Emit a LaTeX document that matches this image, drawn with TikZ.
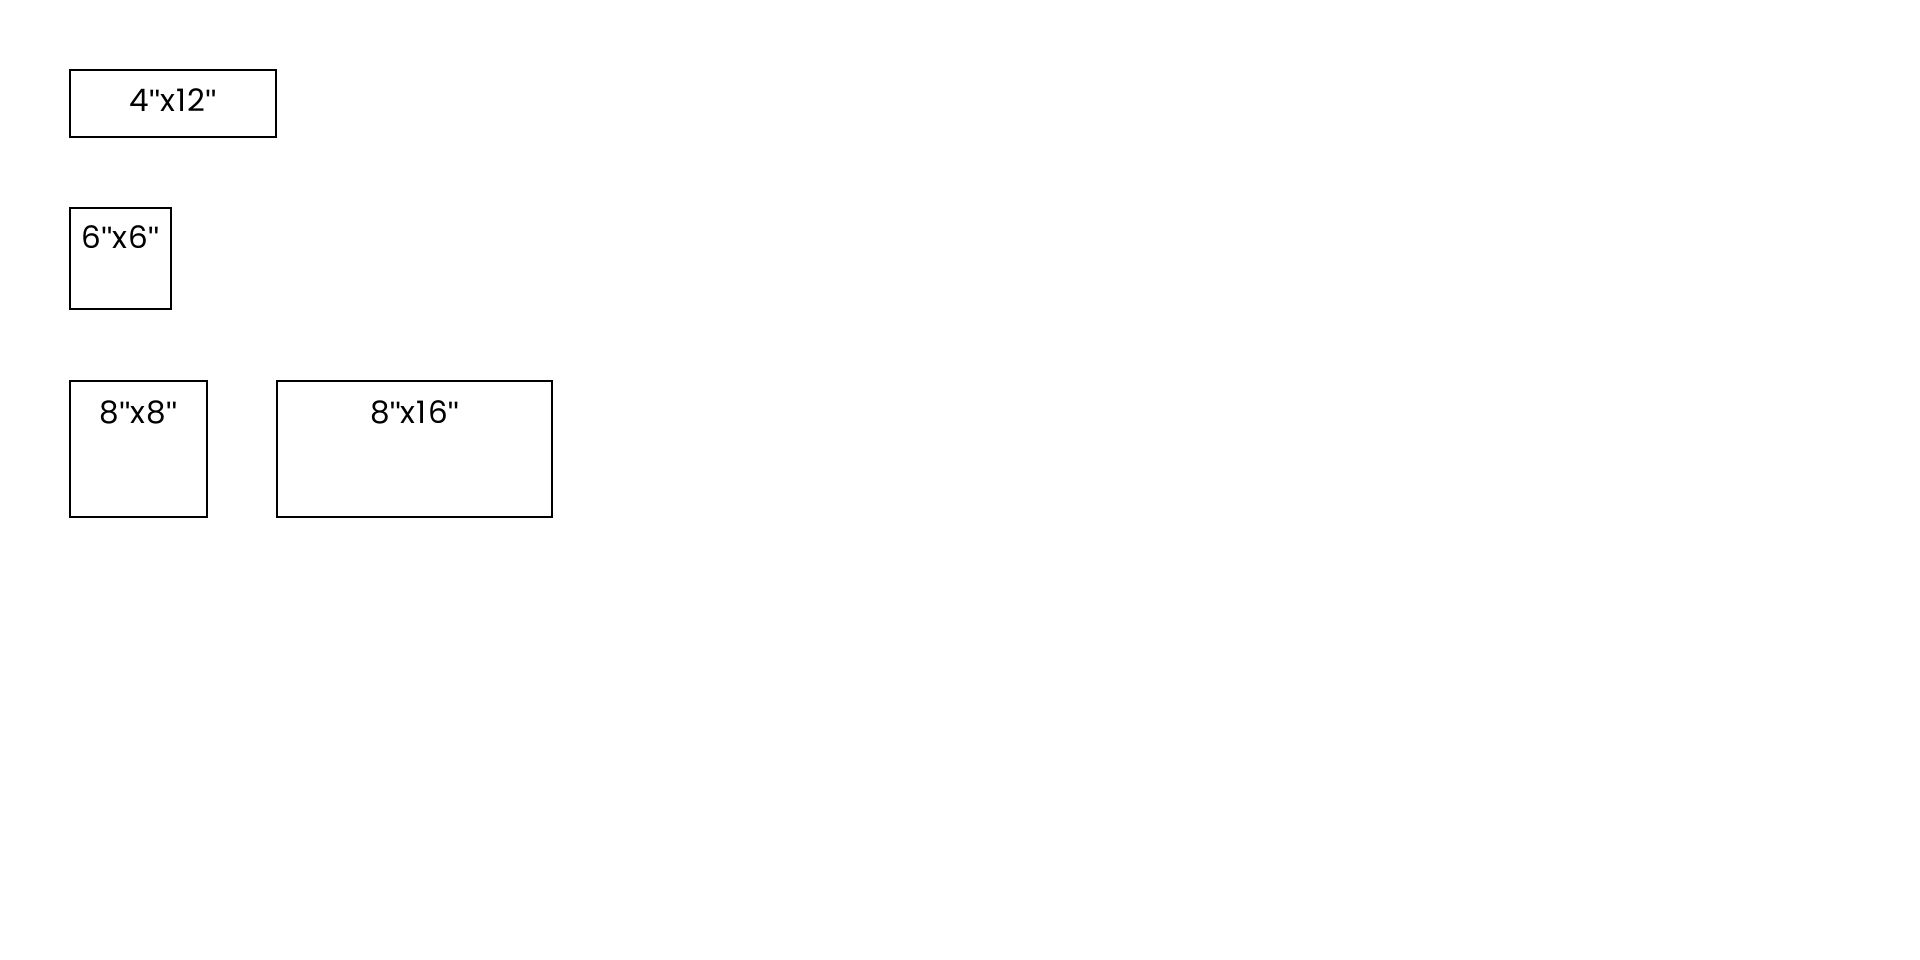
\documentclass[tikz,border=0pt]{standalone}
\usepackage{fontspec}
\setmainfont{Poppins}[LetterSpace=4]
\newfontfamily\quotefam{Liberation Sans}[LetterSpace=4]
\newcommand{\inchmk}{{\quotefam\textquotedbl}}
\begin{document}
\begin{tikzpicture}[x=1pt,y=-1pt,
  tile/.style={draw=black, line width=1.3pt, fill=none},
  lbl/.style={inner sep=0pt, anchor=base, font=\fontsize{31}{37}\selectfont}]
\useasboundingbox (0,0) rectangle (1920,960);
\draw[tile] (70,70) rectangle (276,137);
\node[lbl] (t1) at (173,112) {4\inchmk x12\inchmk};
\draw[tile] (70,208) rectangle (171,309);
\node[lbl] (t2) at (120.5,249) {6\inchmk x6\inchmk};
\draw[tile] (70,381) rectangle (207,517);
\node[lbl] (t3) at (138.5,423) {8\inchmk x8\inchmk};
\draw[tile] (277,381) rectangle (552,517);
\node[lbl] (t4) at (414.5,423) {8\inchmk x16\inchmk};
\end{tikzpicture}
\end{document}
